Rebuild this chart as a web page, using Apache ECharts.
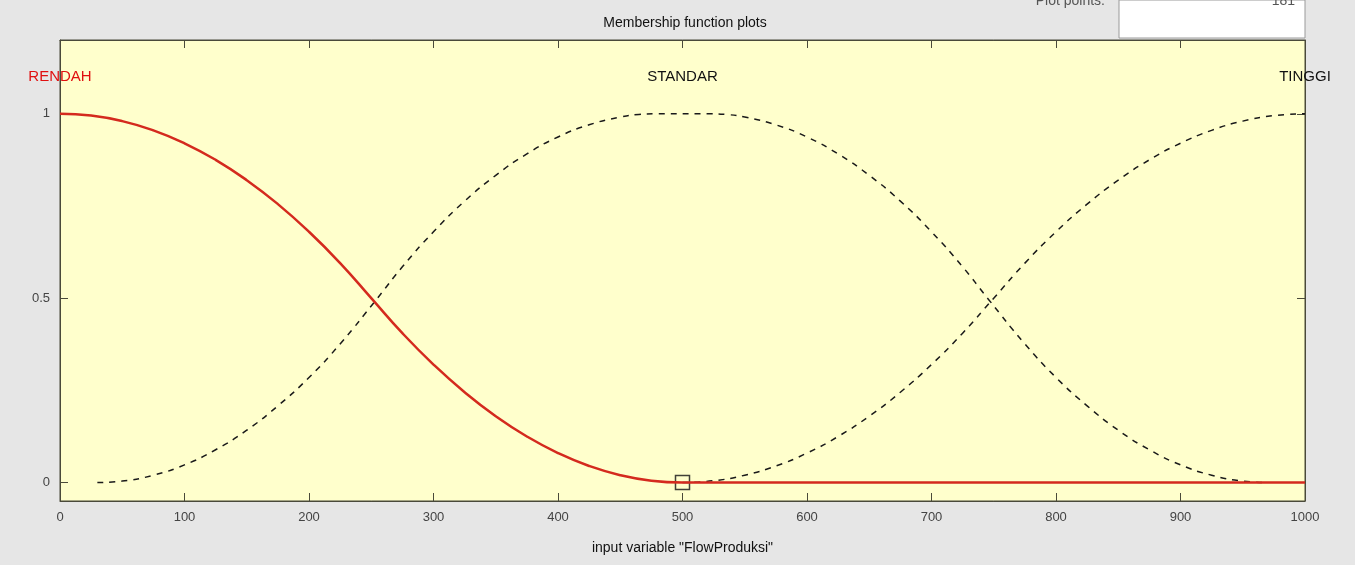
<!DOCTYPE html>
<html>
<head>
<meta charset="utf-8">
<script src="https://cdn.jsdelivr.net/npm/echarts@6/dist/echarts.min.js"></script>
<style>
html,body{margin:0;padding:0;background:#e6e6e6;}
#c{width:1355px;height:565px;}
</style>
</head>
<body>
<div id="c"></div>
<script>
// x tick labels
var xTicks = [0, 100, 200, 300, 400, 500, 600, 700, 800, 900, 1000];
var yTicks = [0, 0.5, 1];
// membership functions: [x, membership]
var rendah = [[0,1],[25,0.995],[50,0.98],[75,0.955],[100,0.92],[125,0.875],[150,0.82],[175,0.755],[200,0.68],[225,0.595],[250,0.5],[275,0.405],[300,0.32],[325,0.245],[350,0.18],[375,0.125],[400,0.08],[425,0.045],[450,0.02],[475,0.005],[500,0],[600,0],[700,0],[800,0],[900,0],[1000,0]];
var standar = [[30,0],[50,0.004],[75,0.02],[100,0.048],[125,0.089],[150,0.142],[175,0.208],[200,0.285],[225,0.376],[255,0.5],[275,0.585],[300,0.68],[325,0.763],[350,0.833],[375,0.891],[400,0.937],[425,0.97],[450,0.991],[465,0.998],[480,1],[520,1],[535,0.998],[550,0.991],[575,0.97],[600,0.937],[625,0.891],[650,0.833],[675,0.763],[700,0.68],[725,0.585],[745,0.5],[775,0.376],[800,0.285],[825,0.208],[850,0.142],[875,0.089],[900,0.048],[925,0.02],[950,0.004],[970,0]];
var tinggi = [[500,0],[525,0.005],[550,0.02],[575,0.045],[600,0.08],[625,0.125],[650,0.18],[675,0.245],[700,0.32],[725,0.405],[750,0.5],[775,0.595],[800,0.68],[825,0.755],[850,0.82],[875,0.875],[900,0.92],[925,0.955],[950,0.98],[975,0.995],[1000,1]];
var mfNames = ['RENDAH', 'STANDAR', 'TINGGI'];
var mfLabelX = [0, 500, 1000];
var labelY = 1.1;
var currentPoint = [[500, 0]];

var chart = echarts.init(document.getElementById('c'));
var font = 'Liberation Sans, Arial, sans-serif';
var axisColor = '#4a4a3a';

function mp(name, x, color) {
  return {
    symbol: 'circle', symbolSize: 1, silent: true,
    itemStyle: {color: 'rgba(0,0,0,0)'},
    label: {show: true, position: 'inside', formatter: name, color: color, fontSize: 15, fontFamily: font},
    data: [{coord: [x, labelY]}]
  };
}

chart.setOption({
  animation: false,
  backgroundColor: '#e6e6e6',
  title: {
    text: 'Membership function plots',
    left: 680, top: 11, textAlign: 'center',
    textStyle: {fontSize: 14, fontWeight: 'normal', color: '#111', fontFamily: font}
  },
  graphic: [
    {type: 'rect', shape: {x: 1119, y: 0, width: 186, height: 38}, style: {fill: '#ffffff', stroke: '#9a9a9a', lineWidth: 1}},
    {type: 'text', x: 1105, y: -6, style: {text: 'Plot points:', fill: '#555', font: '14px ' + font, textAlign: 'right'}},
    {type: 'text', x: 1295, y: -6, style: {text: '181', fill: '#555', font: '14px ' + font, textAlign: 'right'}}
  ],
  grid: {left: 60, right: 50, top: 40, bottom: 64, show: true, backgroundColor: '#ffffcc', borderColor: axisColor, borderWidth: 1},
  xAxis: [{
    type: 'value', min: 0, max: 1000, interval: 100,
    name: 'input variable "FlowProduksi"', nameLocation: 'middle', nameGap: 40,
    nameTextStyle: {fontSize: 14, color: '#111', fontFamily: font},
    axisLine: {show: true, onZero: false, lineStyle: {color: axisColor}},
    axisTick: {show: true, inside: true, length: 8, customValues: xTicks, lineStyle: {color: axisColor}},
    axisLabel: {color: '#444', fontSize: 13, fontFamily: font, margin: 10, customValues: xTicks, formatter: function (v) { return String(v); }},
    splitLine: {show: false}
  }, {
    type: 'value', min: 0, max: 1000, interval: 100, position: 'top',
    axisLine: {show: true, onZero: false, lineStyle: {color: axisColor}},
    axisTick: {show: true, inside: true, length: 8, customValues: xTicks, lineStyle: {color: axisColor}},
    axisLabel: {show: false, customValues: xTicks}, splitLine: {show: false}
  }],
  yAxis: [{
    type: 'value', min: -0.05, max: 1.2,
    axisLine: {show: true, onZero: false, lineStyle: {color: axisColor}},
    axisTick: {show: true, inside: true, length: 8, customValues: yTicks, lineStyle: {color: axisColor}},
    axisLabel: {color: '#444', fontSize: 13, fontFamily: font, margin: 10, customValues: yTicks},
    splitLine: {show: false}
  }, {
    type: 'value', min: -0.05, max: 1.2, position: 'right',
    axisLine: {show: true, onZero: false, lineStyle: {color: axisColor}},
    axisTick: {show: true, inside: true, length: 8, customValues: yTicks, lineStyle: {color: axisColor}},
    axisLabel: {show: false, customValues: yTicks},
    splitLine: {show: false}
  }],
  series: [
    {name: mfNames[1], type: 'line', data: standar, smooth: true, showSymbol: false,
     lineStyle: {color: '#1a1a1a', width: 1.5, type: [6, 6]}, markPoint: mp(mfNames[1], mfLabelX[1], '#111')},
    {name: mfNames[2], type: 'line', data: tinggi, smooth: true, showSymbol: false,
     lineStyle: {color: '#1a1a1a', width: 1.5, type: [6, 6]}, markPoint: mp(mfNames[2], mfLabelX[2], '#111')},
    {name: mfNames[0], type: 'line', data: rendah, smooth: true, showSymbol: false,
     lineStyle: {color: '#d42a1e', width: 2.5}, markPoint: mp(mfNames[0], mfLabelX[0], '#e01010')},
    {type: 'scatter', data: currentPoint, symbol: 'rect', symbolSize: 14,
     itemStyle: {color: 'rgba(0,0,0,0)', borderColor: '#111', borderWidth: 1.5}}
  ]
});
</script>
</body>
</html>
